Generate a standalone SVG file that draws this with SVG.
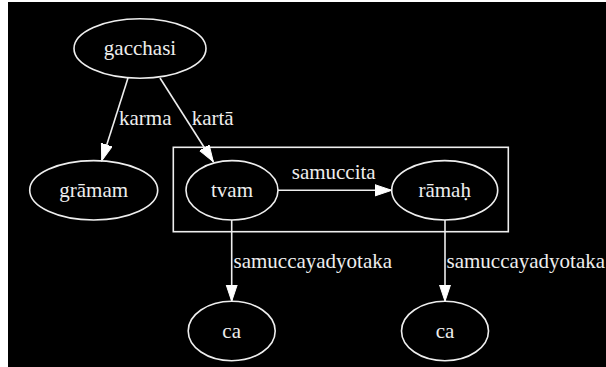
<svg xmlns="http://www.w3.org/2000/svg" width="606" height="367" viewBox="0 0 606 367">
<style>
.n ellipse{fill:none;stroke:#eeeeee;stroke-width:1.6}
text{font-family:"Liberation Serif","Times New Roman",serif;font-size:21px;fill:#eeeeee}
.n text{text-anchor:middle}
.e path{fill:none;stroke:#eeeeee;stroke-width:1.6}
.c{fill:none;stroke:#eeeeee;stroke-width:1.6}
</style>
<defs>
<marker id="ah" markerUnits="userSpaceOnUse" markerWidth="18" markerHeight="13" refX="16.7" refY="6" orient="auto">
<path d="M0,0.4 L16.7,6 L0,11.6 Z" fill="#ffffff" stroke="#ffffff" stroke-width="1"/>
</marker>
</defs>
<rect x="0" y="0" width="606" height="367" fill="#ffffff"/>
<rect x="8" y="2" width="598" height="365" fill="#000000"/>
<rect id="cluster" class="c" x="173.3" y="147.3" width="335" height="84.4"/>
<g id="edges" class="e">
<path d="M128,78 L101.7,160.7" marker-end="url(#ah)"/>
<path d="M160,78 L213.3,161.7" marker-end="url(#ah)"/>
<path d="M278,190.3 L391.7,190.3" marker-end="url(#ah)"/>
<path d="M231.7,220 L231.7,301.3" marker-end="url(#ah)"/>
<path d="M445,220 L445,301.3" marker-end="url(#ah)"/>
<text x="119" y="125">karma</text>
<text x="191.7" y="125">kartā</text>
<text x="333.7" y="179" text-anchor="middle">samuccita</text>
<text x="233.5" y="268">samuccayadyotaka</text>
<text x="446.5" y="268">samuccayadyotaka</text>
</g>
<g id="gacchasi" class="n"><ellipse cx="140" cy="48.5" rx="66" ry="29.7"/><text x="140" y="55">gacchasi</text></g>
<g id="gramam" class="n"><ellipse cx="93.7" cy="190.3" rx="64" ry="29.7"/><text x="93.7" y="197">grāmam</text></g>
<g id="tvam" class="n"><ellipse cx="232" cy="190.3" rx="46" ry="29.7"/><text x="232" y="196.5">tvam</text></g>
<g id="ramah" class="n"><ellipse cx="444.7" cy="190.3" rx="53" ry="29.7"/><text x="444.7" y="197">rāmaḥ</text></g>
<g id="ca1" class="n"><ellipse cx="231.7" cy="331" rx="43.5" ry="29.7"/><text x="231.7" y="337.5">ca</text></g>
<g id="ca2" class="n"><ellipse cx="445" cy="331" rx="43.5" ry="29.7"/><text x="445" y="337.5">ca</text></g>
</svg>
